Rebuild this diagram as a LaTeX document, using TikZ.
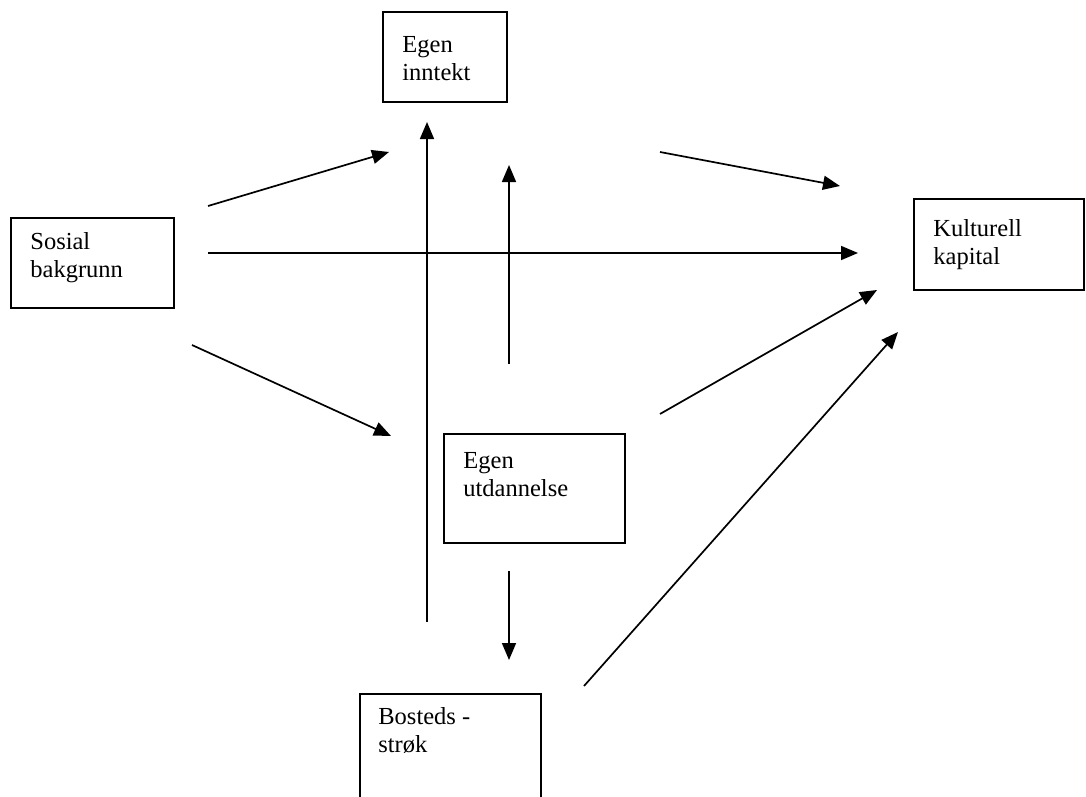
\documentclass[tikz,border=0pt]{standalone}
\usepackage{fontspec}
\setmainfont{Liberation Serif}
\usetikzlibrary{arrows.meta,calc}
\begin{document}
\begin{tikzpicture}[x=0.5pt,y=-0.5pt,
  box/.style={draw,line width=1pt,rectangle,inner sep=0pt,anchor=north west},
  lbl/.style={anchor=north west,inner sep=0pt,align=left,font=\fontsize{12.25}{14}\selectfont},
  arr/.style={line width=0.85pt,-{Triangle[length=8.5pt,width=7pt]}}]
\useasboundingbox (0,0) rectangle (1086,797);
\clip (0,0) rectangle (1086,797);
% boxes
\node[box,minimum width=62pt,minimum height=45pt] (inntekt) at (382,11) {};
\node[box,minimum width=81.5pt,minimum height=45pt] (sosial) at (10,217) {};
\node[box,minimum width=85pt,minimum height=45.5pt] (kultur) at (913,198) {};
\node[box,minimum width=90.5pt,minimum height=54.5pt] (utd) at (443,433) {};
\node[box,minimum width=90.5pt,minimum height=60pt] (bosted) at (359,693) {};
% labels
\node[lbl] (linntekt) at (402,36.5) {Egen\\inntekt};
\node[lbl] (lsosial) at (30,232.5) {Sosial\\bakgrunn};
\node[lbl] (lkultur) at (933,219.5) {Kulturell\\kapital};
\node[lbl] (lutd) at (463,452.5) {Egen\\utdannelse};
\node[lbl] (lbosted) at (378,707.5) {Bosteds -\\strøk};
% arrow end points
\coordinate (a1s) at (208,206); \coordinate (a1e) at (389,152);
\coordinate (a2s) at (208,253); \coordinate (a2e) at (858,253);
\coordinate (a3s) at (192,345); \coordinate (a3e) at (391,436);
\coordinate (a4s) at (427,622); \coordinate (a4e) at (427,122);
\coordinate (a5s) at (509,364); \coordinate (a5e) at (509,165);
\coordinate (a6s) at (660,152); \coordinate (a6e) at (840,186);
\coordinate (a7s) at (660,414); \coordinate (a7e) at (877,290);
\coordinate (a8s) at (509,571); \coordinate (a8e) at (509,660);
\coordinate (a9s) at (584,686); \coordinate (a9e) at (898,332);
\foreach \i in {1,...,9} {\draw[arr] (a\i s) -- (a\i e);}
\end{tikzpicture}
\end{document}
